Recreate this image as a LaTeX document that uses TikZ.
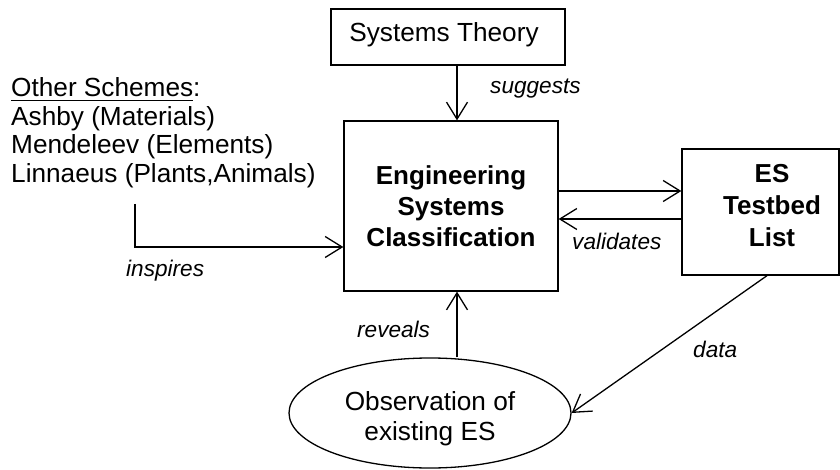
\documentclass[tikz,border=0pt]{standalone}
\usepackage{fontspec}
\setmainfont{Liberation Sans}
\usetikzlibrary{arrows.meta,shapes.geometric}
\begin{document}
\begin{tikzpicture}[x=1pt,y=-1pt,
  box/.style={draw, line width=1.3pt, rectangle, inner sep=0pt},
  reg/.style={inner sep=0pt, font=\fontsize{26.2}{30}\selectfont},
  bld/.style={inner sep=0pt, align=center, font=\fontsize{26}{31}\selectfont\bfseries},
  lbl/.style={inner sep=0pt, anchor=base west, font=\fontsize{22.6}{26}\selectfont\itshape},
  arr/.style={line width=1.3pt, -{Straight Barb[length=17pt,width=21pt]}},
  conn/.style={line width=1.3pt}]
\useasboundingbox (0,0) rectangle (840,470);
% boxes
\node[box, minimum width=234pt, minimum height=56pt] (st) at (448,37) {};
\node[reg] (sttext) at (444,35.2) {Systems Theory};
\node[box, bld, minimum width=214pt, minimum height=170pt] (main) at (451,206)
  {Engineering\\Systems\\Classification};
\node[box, minimum width=157pt, minimum height=126pt] (es) at (760.5,212) {};
\node[bld, font=\fontsize{26}{32}\selectfont\bfseries] (estext) at (772,205.7) {ES\\Testbed\\List};
\node[draw, ellipse, line width=1.3pt, inner sep=0pt, minimum width=282pt, minimum height=110pt] (obs) at (430,413) {};
\node[reg, align=center, font=\fontsize{26.2}{29.5}\selectfont] (obstext) at (430,418.5) {Observation of\\existing ES};
% other schemes
\node[reg, anchor=base west] (os1) at (11,97) {{\setbox0\hbox{Other Schemes}\rlap{\rule[-4.5pt]{\wd0}{1.3pt}}\box0}:};
\node[reg, anchor=base west] (os2) at (11,125.5) {Ashby (Materials)};
\node[reg, anchor=base west] (os3) at (11,154) {Mendeleev (Elements)};
\node[reg, anchor=base west] (os4) at (11,183) {Linnaeus (Plants,Animals)};
% connectors
\coordinate (cx) at (457,0);
\coordinate (ia) at (135,204);
\coordinate (y1) at (0,191);
\coordinate (y2) at (0,219);
\draw[arr] (st.south -| cx) -- (main.north -| cx);
\draw[arr] (obs.north -| cx) -- (main.south -| cx);
\draw[arr] (ia) |- ([yshift=-41pt]main.west);
\draw[arr] (main.east |- y1) -- (es.west |- y1);
\draw[arr] (es.west |- y2) -- (main.east |- y2);
\draw[arr] ([xshift=6.5pt]es.south) -- (obs.east);
% labels
\node[lbl] (lsug) at (490,94) {suggests};
\node[lbl] (lval) at (572,250) {validates};
\node[lbl] (lins) at (126,276.7) {inspires};
\node[lbl] (lrev) at (357,337) {reveals};
\node[lbl] (ldat) at (693,357) {data};
\end{tikzpicture}
\end{document}
